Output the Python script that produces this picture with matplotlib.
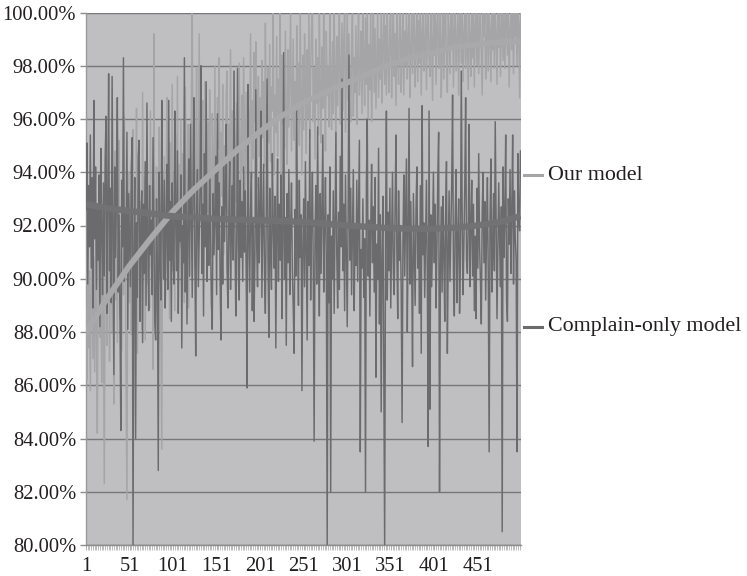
import matplotlib
matplotlib.use("Agg")
import matplotlib.pyplot as plt
from matplotlib.lines import Line2D
from matplotlib.ticker import FixedLocator, FuncFormatter

# ---------------------------------------------------------------- data
# Accuracy (%) per run, runs 1..500
complain_only = [
    92.6, 95.1, 89.8, 93.5, 91.2, 95.4, 90.4, 93.8, 88.9, 96.7,
    91.5, 94.2, 89.6, 92.8, 90.7, 93.9, 88.2, 94.9, 91.8, 89.4,
    93.6, 90.1, 94.5, 96.1, 88.7, 92.9, 97.7, 90.3, 93.4, 89.1,
    97.6, 91.9, 86.4, 94.2, 90.8, 93.1, 96.8, 89.5, 92.4, 88.6,
    84.3, 93.7, 91.2, 98.3, 89.9, 92.6, 90.4, 95.5, 88.1, 93.2,
    91.4, 89.7, 94.1, 95.3, 80.0, 90.6, 93.8, 84.0, 92.1, 89.3,
    94.6, 95.2, 88.4, 91.7, 93.3, 87.6, 92.8, 90.2, 94.4, 89.0,
    96.6, 91.3, 88.8, 93.5, 90.9, 92.2, 89.4, 95.3, 91.6, 88.3,
    87.7, 93.0, 90.5, 82.8, 94.0, 91.1, 89.2, 96.7, 92.5, 90.0,
    93.7, 88.9, 91.8, 94.3, 89.6, 96.7, 90.7, 92.9, 88.4, 93.6,
    91.0, 89.8, 96.3, 92.2, 90.3, 94.8, 88.7, 92.7, 91.4, 93.9,
    87.4, 92.0, 90.6, 98.3, 89.5, 93.1, 88.3, 91.9, 94.5, 90.1,
    95.8, 92.4, 89.3, 93.8, 96.8, 90.8, 87.1, 92.6, 94.1, 89.7,
    91.5, 93.4, 98.0, 90.2, 92.8, 88.6, 94.7, 91.2, 97.4, 89.9,
    92.3, 90.5, 94.0, 91.7, 89.1, 88.1, 93.2, 90.9, 92.5, 94.6,
    89.4, 96.2, 91.1, 93.6, 90.0, 87.7, 92.7, 89.8, 94.3, 91.4,
    93.0, 95.8, 90.4, 88.9, 92.1, 94.4, 89.6, 91.8, 93.5, 90.7,
    97.8, 92.0, 88.6, 90.3, 97.9, 91.5, 89.2, 93.7, 90.8, 92.9,
    89.9, 94.2, 91.0, 93.3, 90.1, 85.9, 97.3, 91.7, 89.5, 92.6,
    94.0, 88.8, 92.2, 88.4, 90.9, 97.1, 91.3, 89.7, 93.8, 90.6,
    92.7, 96.3, 89.3, 91.9, 94.3, 90.2, 88.7, 92.5, 97.5, 90.8,
    87.8, 93.4, 91.1, 89.6, 94.7, 92.0, 90.4, 93.1, 87.4, 91.6,
    94.5, 89.9, 92.8, 90.7, 93.9, 88.5, 91.4, 98.5, 90.0, 92.3,
    87.5, 93.2, 90.6, 94.1, 89.4, 91.8, 93.6, 90.3, 88.9, 87.2,
    92.6, 90.1, 96.3, 91.5, 89.0, 93.7, 90.8, 92.4, 85.8, 91.2,
    93.0, 89.7, 94.4, 91.0, 87.7, 92.9, 90.5, 95.6, 89.2, 92.1,
    94.0, 90.4, 83.9, 91.7, 93.5, 89.8, 95.7, 91.3, 88.6, 93.2,
    90.2, 92.7, 95.4, 89.5, 91.9, 93.8, 90.6, 80.0, 92.4, 89.1,
    94.2, 82.0, 91.6, 90.0, 93.3, 88.7, 92.1, 95.5, 90.9, 88.9,
    92.5, 89.6, 94.6, 91.2, 97.5, 90.3, 92.8, 88.8, 93.9, 91.0,
    88.2, 92.3, 98.4, 90.7, 93.4, 89.4, 91.8, 94.1, 88.8, 92.0,
    90.5, 93.7, 89.9, 92.6, 95.2, 83.5, 91.1, 90.4, 93.0, 89.3,
    91.5, 82.0, 93.6, 96.0, 90.1, 92.2, 88.6, 91.9, 94.3, 90.6,
    92.7, 89.5, 93.8, 86.3, 91.3, 90.0, 94.9, 88.3, 92.4, 85.0,
    90.8, 93.1, 86.6, 80.0, 91.7, 96.3, 89.2, 92.5, 90.3, 93.4,
    88.9, 91.6, 94.0, 90.2, 89.4, 92.8, 95.4, 91.0, 88.5, 93.3,
    90.7, 92.0, 89.6, 84.6, 91.4, 93.9, 90.1, 92.3, 94.5, 88.0,
    91.8, 96.4, 89.8, 92.9, 90.5, 86.7, 93.2, 91.1, 89.0, 92.6,
    94.2, 90.4, 91.9, 88.7, 93.5, 87.2, 96.5, 90.9, 92.1, 89.3,
    91.4, 93.7, 90.0, 83.7, 96.3, 85.1, 92.4, 89.7, 91.6, 94.0,
    90.6, 92.8, 88.9, 91.2, 93.8, 95.5, 82.0, 90.3, 92.7, 89.5,
    93.1, 91.0, 88.4, 92.5, 94.4, 87.2, 90.8, 93.3, 89.9, 91.7,
    93.6, 96.9, 90.2, 88.6, 92.2, 94.1, 89.1, 91.5, 93.0, 88.7,
    90.5, 97.8, 92.6, 89.4, 91.3, 93.5, 96.8, 90.7, 90.2, 92.0,
    95.8, 89.7, 91.9, 93.7, 90.1, 92.8, 88.8, 91.6, 88.5, 93.4,
    90.4, 94.7, 91.2, 89.9, 88.3, 92.5, 94.0, 90.6, 92.9, 89.2,
    91.7, 93.8, 90.0, 83.5, 92.3, 94.5, 89.5, 91.1, 93.2, 90.3,
    95.9, 92.0, 88.5, 90.9, 93.6, 91.4, 89.7, 92.7, 80.5, 94.2,
    90.8, 92.4, 95.4, 89.2, 88.4, 93.0, 91.3, 94.1, 90.2, 92.6,
    95.4, 89.8, 93.3, 91.5, 90.7, 83.5, 94.7, 92.2, 91.8, 94.8,
]

our_model = [
    88.9, 86.2, 91.5, 87.4, 90.3, 85.8, 89.6, 92.1, 87.0, 90.8,
    86.5, 91.9, 88.3, 84.2, 90.6, 93.4, 87.8, 89.9, 86.1, 92.7,
    88.4, 82.3, 91.2, 94.3, 87.5, 90.4, 92.8, 86.9, 89.7, 93.1,
    88.0, 91.6, 85.3, 94.8, 89.2, 92.3, 87.6, 90.9, 95.2, 88.5,
    91.8, 87.3, 93.6, 89.4, 96.1, 90.7, 86.4, 81.7, 92.5, 94.0,
    89.1, 93.3, 87.9, 91.4, 95.6, 88.6, 92.0, 90.2, 96.4, 87.2,
    91.7, 94.5, 89.3, 92.9, 88.1, 97.0, 90.5, 93.8, 87.7, 91.2,
    94.9, 89.8, 92.6, 88.9, 96.3, 90.4, 93.5, 86.6, 99.2, 91.0,
    88.7, 94.2, 91.5, 89.6, 95.7, 92.3, 87.9, 83.6, 93.9, 90.8,
    94.6, 89.2, 92.7, 96.8, 90.1, 93.4, 88.5, 95.1, 91.6, 97.3,
    90.3, 93.9, 88.8, 95.4, 92.0, 97.6, 89.7, 94.3, 91.2, 96.0,
    90.6, 94.7, 92.4, 89.1, 97.2, 93.0, 91.5, 95.8, 88.9, 94.1,
    91.8, 96.5, 100.0, 92.6, 95.0, 90.4, 94.6, 97.9, 91.3, 93.8,
    99.2, 92.1, 95.3, 90.9, 96.7, 93.2, 91.6, 97.4, 94.0, 92.5,
    95.9, 91.4, 97.1, 93.6, 90.8, 96.2, 94.4, 92.0, 98.0, 93.3,
    91.9, 96.8, 94.9, 98.3, 92.7, 95.5, 93.1, 97.3, 90.9, 95.0,
    93.7, 96.9, 97.8, 92.4, 95.8, 94.2, 98.6, 93.0, 96.3, 91.8,
    97.8, 94.5, 92.9, 96.6, 95.2, 93.6, 98.1, 94.8, 91.9, 96.9,
    94.0, 98.3, 95.6, 93.2, 97.0, 94.7, 92.6, 96.4, 95.1, 99.2,
    93.8, 96.7, 94.5, 98.5, 95.9, 98.9, 93.4, 96.1, 97.6, 94.6,
    96.8, 93.9, 98.2, 95.3, 97.4, 94.2, 99.6, 96.0, 93.5, 97.9,
    95.1, 98.8, 94.4, 97.2, 96.3, 100.0, 93.9, 96.9, 95.5, 99.1,
    94.6, 97.5, 96.2, 100.0, 93.7, 98.4, 95.8, 97.0, 94.9, 99.3,
    96.1, 94.3, 98.6, 95.7, 97.8, 100.0, 94.8, 96.9, 99.0, 95.2,
    97.4, 94.1, 99.5, 96.3, 98.1, 95.0, 100.0, 96.8, 93.9, 98.4,
    95.6, 99.2, 97.1, 94.7, 98.6, 96.0, 100.0, 95.3, 97.7, 99.4,
    100.0, 95.9, 97.9, 94.5, 99.0, 96.6, 98.3, 95.4, 100.0, 97.2,
    95.1, 98.7, 96.4, 100.0, 97.6, 94.8, 99.3, 96.9, 98.0, 95.7,
    100.0, 97.4, 95.6, 98.9, 96.2, 100.0, 97.8, 94.9, 99.1, 96.5,
    98.4, 100.0, 95.8, 97.7, 99.6, 96.3, 98.9, 100.0, 95.5, 97.9,
    100.0, 96.7, 99.2, 97.4, 95.9, 98.6, 100.0, 96.1, 98.3, 97.0,
    99.5, 95.8, 98.1, 100.0, 96.9, 97.7, 99.3, 96.2, 100.0, 98.4,
    96.5, 99.8, 97.3, 100.0, 96.0, 98.8, 97.1, 100.0, 95.9, 98.5,
    100.0, 97.0, 99.4, 96.4, 98.2, 100.0, 96.8, 99.0, 97.5, 100.0,
    96.6, 98.7, 100.0, 97.3, 99.5, 96.9, 100.0, 98.2, 97.0, 99.7,
    100.0, 96.8, 98.9, 100.0, 97.6, 99.2, 96.5, 100.0, 98.4, 97.3,
    99.6, 100.0, 97.0, 98.7, 100.0, 96.9, 99.3, 98.0, 100.0, 97.5,
    99.0, 100.0, 96.8, 98.6, 100.0, 97.7, 99.4, 100.0, 97.2, 98.9,
    100.0, 97.4, 99.7, 98.1, 100.0, 96.9, 99.2, 100.0, 97.8, 98.8,
    100.0, 97.1, 99.5, 100.0, 98.3, 97.6, 100.0, 99.0, 96.7, 100.0,
    98.4, 100.0, 97.3, 99.6, 100.0, 97.9, 99.1, 100.0, 96.8, 98.7,
    100.0, 97.5, 99.8, 100.0, 98.2, 97.0, 100.0, 99.3, 97.7, 100.0,
    98.6, 100.0, 97.2, 99.4, 100.0, 97.8, 98.9, 100.0, 96.9, 99.7,
    100.0, 98.1, 100.0, 97.4, 99.2, 100.0, 97.9, 100.0, 98.5, 97.1,
    100.0, 99.0, 97.6, 100.0, 98.3, 100.0, 97.2, 99.5, 100.0, 98.0,
    100.0, 97.7, 99.6, 100.0, 98.4, 96.9, 100.0, 99.1, 100.0, 97.5,
    98.9, 100.0, 97.8, 100.0, 99.3, 97.4, 100.0, 98.6, 100.0, 97.9,
    100.0, 99.2, 97.3, 100.0, 98.7, 100.0, 97.6, 99.5, 100.0, 98.2,
    100.0, 97.9, 99.8, 100.0, 98.4, 100.0, 97.2, 99.4, 100.0, 98.6,
    100.0, 97.7, 100.0, 99.1, 100.0, 98.0, 100.0, 99.6, 96.8, 100.0,
]

# Polynomial trend lines, sampled every 25 runs
trend_runs = [1, 25, 50, 75, 100, 125, 150, 175, 200, 225, 250,
              275, 300, 325, 350, 375, 400, 425, 450, 475, 500]
our_model_trend = [88.0, 89.25, 90.45, 91.5, 92.5, 93.35, 94.1, 94.85, 95.5,
                   96.1, 96.6, 97.0, 97.35, 97.7, 98.05, 98.3, 98.5, 98.7,
                   98.8, 98.88, 98.92]
complain_only_trend = [92.8, 92.65, 92.55, 92.45, 92.35, 92.3, 92.25, 92.22,
                       92.2, 92.17, 92.13, 92.07, 92.0, 91.95, 91.9, 91.88,
                       91.88, 91.92, 92.0, 92.12, 92.35]

series_names = ["Our model", "Complain-only model"]
x_tick_labels = [1, 51, 101, 151, 201, 251, 301, 351, 401, 451]
y_ticks = [80, 82, 84, 86, 88, 90, 92, 94, 96, 98, 100]

# ---------------------------------------------------------------- style
BG = "#bfbfc1"
GRID = "#77777a"
LIGHT = "#a5a5a7"
DARK = "#6b6b6e"
LIGHT_TREND = "#a9a9ab"
DARK_TREND = "#727275"
TEXT = "#231f20"
SERIF = ["Liberation Serif", "DejaVu Serif"]

plt.rcParams["font.family"] = SERIF

fig = plt.figure(figsize=(7.47, 5.76), dpi=100)
ax = fig.add_axes([86 / 747, 1 - 545 / 576, (520.5 - 86) / 747, (545 - 12.5) / 576])
ax.set_facecolor(BG)

runs = list(range(1, len(our_model) + 1))

ax.plot(runs, our_model, color=LIGHT, lw=1.05, zorder=3)
ax.plot(runs, complain_only, color=DARK, lw=1.05, zorder=4)
ax.plot(trend_runs, our_model_trend, color=LIGHT_TREND, lw=4.2,
        solid_capstyle="butt", zorder=5)
ax.plot(trend_runs, complain_only_trend, color=DARK_TREND, lw=4.6,
        solid_capstyle="butt", zorder=6)

ax.set_xlim(1, 500)
ax.set_ylim(80, 100)

# horizontal gridlines
ax.set_yticks(y_ticks)
ax.yaxis.set_major_formatter(FuncFormatter(lambda v, p: f"{v:.2f}%"))
ax.grid(axis="y", color=GRID, lw=1.0)
for gl in ax.get_ygridlines():
    gl.set_zorder(2)

ax.set_xticks(x_tick_labels)
ax.set_xticklabels([str(v) for v in x_tick_labels])
ax.xaxis.set_minor_locator(FixedLocator(list(range(1, 501, 2))))

ax.tick_params(axis="y", which="major", direction="out", length=4.2, width=1.0,
               color="#8c8c8e", pad=3, labelsize=14.8, labelcolor=TEXT)
ax.tick_params(axis="x", which="major", direction="out", length=3.6, width=0.6,
               color="#a2a2a4", pad=4.8, labelsize=14.8, labelcolor=TEXT)
ax.tick_params(axis="x", which="minor", direction="out", length=3.6, width=0.5,
               color="#a2a2a4")

for side in ("top", "right"):
    ax.spines[side].set_visible(False)
ax.spines["left"].set_color("#9a9a9c")
ax.spines["left"].set_linewidth(1.0)
ax.spines["bottom"].set_color("#8c8c8e")
ax.spines["bottom"].set_linewidth(1.0)

# legend entries to the right of the plot
legend_rows = [(series_names[0], LIGHT, 1 - 175 / 576),
               (series_names[1], DARK, 1 - 327 / 576)]
for name, col, yf in legend_rows:
    fig.add_artist(Line2D([524 / 747, 542 / 747], [yf, yf], color=col, lw=2.2,
                          transform=fig.transFigure))
    fig.text(548 / 747, yf, name, ha="left", va="center", fontsize=15.8,
             color=TEXT, family=SERIF)

fig.savefig("out.png", dpi=100, facecolor="white")
